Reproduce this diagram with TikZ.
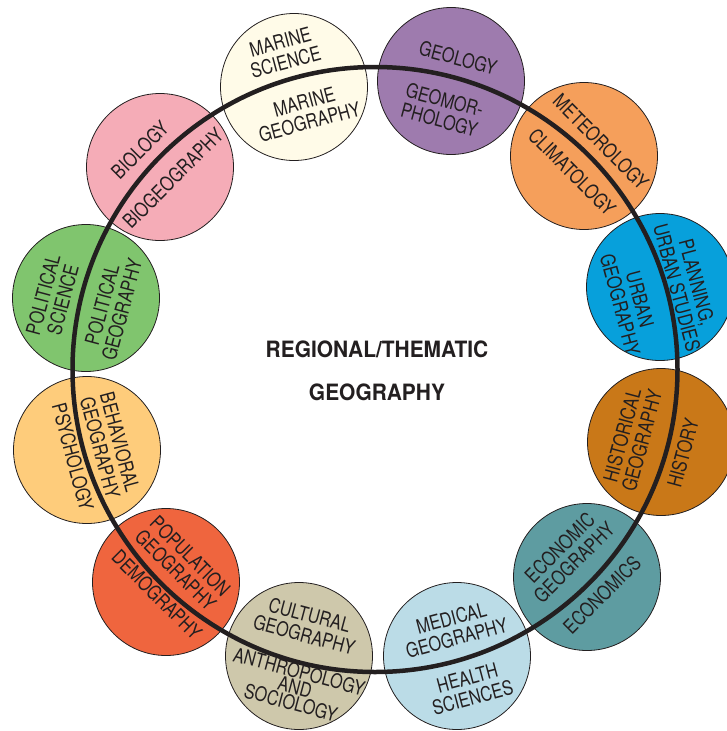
\documentclass[tikz,border=0pt]{standalone}
\usepackage{fontspec}
\newfontfamily\condf[FakeStretch=0.81]{TeX Gyre Heros}
\newfontfamily\headf[FakeStretch=0.93]{TeX Gyre Heros}
\definecolor{ink}{HTML}{231F20}
\definecolor{cMarine}{HTML}{FFFBE8}
\definecolor{cGeology}{HTML}{9E7BAE}
\definecolor{cMeteo}{HTML}{F59F5B}
\definecolor{cPlan}{HTML}{07A0DB}
\definecolor{cHist}{HTML}{C97818}
\definecolor{cEcon}{HTML}{5E9CA1}
\definecolor{cHealth}{HTML}{BBDCE7}
\definecolor{cAnth}{HTML}{CEC8AB}
\definecolor{cPop}{HTML}{EF653E}
\definecolor{cBeh}{HTML}{FECC7B}
\definecolor{cPol}{HTML}{80C56E}
\definecolor{cBio}{HTML}{F5ACB7}
\begin{document}
\begin{tikzpicture}[x=1pt,y=-1pt,
  disc/.style={circle,draw=ink,line width=0.8pt,minimum size=147pt,inner sep=0pt},
  bigring/.style={circle,draw=ink,line width=4.5pt,minimum size=605pt,inner sep=0pt},
  lab/.style={font=\condf\fontsize{20}{20.5}\selectfont,text=ink,align=center,inner sep=0pt},
  head/.style={font=\headf\bfseries\fontsize{22.5}{43}\selectfont,text=ink,align=center,inner sep=0pt}]
\useasboundingbox (0,0) rectangle (727,731);
% discs
\node[disc,fill=cMarine]  (marine) at (294,87) {};
\node[disc,fill=cGeology] (geology) at (451,81) {};
\node[disc,fill=cMeteo]   (meteo) at (584,156) {};
\node[disc,fill=cPlan]    (plan) at (660,287) {};
\node[disc,fill=cHist]    (hist) at (661,442) {};
\node[disc,fill=cEcon]    (econ) at (587,577) {};
\node[disc,fill=cHealth]  (health) at (457,656) {};
\node[disc,fill=cAnth]    (anth) at (299,656) {};
\node[disc,fill=cPop]     (pop) at (166,582) {};
\node[disc,fill=cBeh]     (beh) at (87,450) {};
\node[disc,fill=cPol]     (pol) at (86,298) {};
\node[disc,fill=cBio]     (bio) at (160,167) {};
% ring
\node[bigring] (ring) at (375,369.5) {};
% centre title
\node[head] (title) at (377,371) {REGIONAL/THEMATIC\\GEOGRAPHY};
% labels
\node[lab,rotate=15]  (tMarineA) at (283,52) {MARINE\\SCIENCE};
\node[lab,rotate=15]  (tMarineB) at (307,112) {MARINE\\GEOGRAPHY};
\node[lab,rotate=-15] (tGeoA) at (458,58) {GEOLOGY};
\node[lab,rotate=-15] (tGeoB) at (442,110) {GEOMOR-\\PHOLOGY};
\node[lab,rotate=-45] (tMetA) at (601,142) {METEOROLOGY};
\node[lab,rotate=-45] (tMetB) at (572,172) {CLIMATOLOGY};
\node[lab,rotate=-75] (tPlanA) at (687,285) {PLANNING,\\URBAN STUDIES};
\node[lab,rotate=-75] (tPlanB) at (630,302) {URBAN\\GEOGRAPHY};
\node[lab,rotate=75]  (tHistB) at (632,438) {HISTORICAL\\GEOGRAPHY};
\node[lab,rotate=75]  (tHistA) at (683,453) {HISTORY};
\node[lab,rotate=45]  (tEconB) at (567,555) {ECONOMIC\\GEOGRAPHY};
\node[lab,rotate=45]  (tEconA) at (602,595) {ECONOMICS};
\node[lab,rotate=15]  (tHealthB) at (454,628) {MEDICAL\\GEOGRAPHY};
\node[lab,rotate=15]  (tHealthA) at (470,688) {HEALTH\\SCIENCES};
\node[lab,rotate=-15] (tAnthB) at (307,625) {CULTURAL\\GEOGRAPHY};
\node[lab,rotate=-15,font=\condf\fontsize{20}{16}\selectfont] (tAnthA) at (295,687) {ANTHROPOLOGY\\AND\\SOCIOLOGY};
\node[lab,rotate=-45] (tPopB) at (183,563) {POPULATION\\GEOGRAPHY};
\node[lab,rotate=-45] (tPopA) at (157,595) {DEMOGRAPHY};
\node[lab,rotate=-75] (tBehB) at (110,445) {BEHAVIORAL\\GEOGRAPHY};
\node[lab,rotate=-75] (tBehA) at (73,457) {PSYCHOLOGY};
\node[lab,rotate=75]  (tPolA) at (53,297) {POLITICAL\\SCIENCE};
\node[lab,rotate=75]  (tPolB) at (112,307) {POLITICAL\\GEOGRAPHY};
\node[lab,rotate=45]  (tBioA) at (140,150) {BIOLOGY};
\node[lab,rotate=45]  (tBioB) at (173,178) {BIOGEOGRAPHY};
\end{tikzpicture}
\end{document}
